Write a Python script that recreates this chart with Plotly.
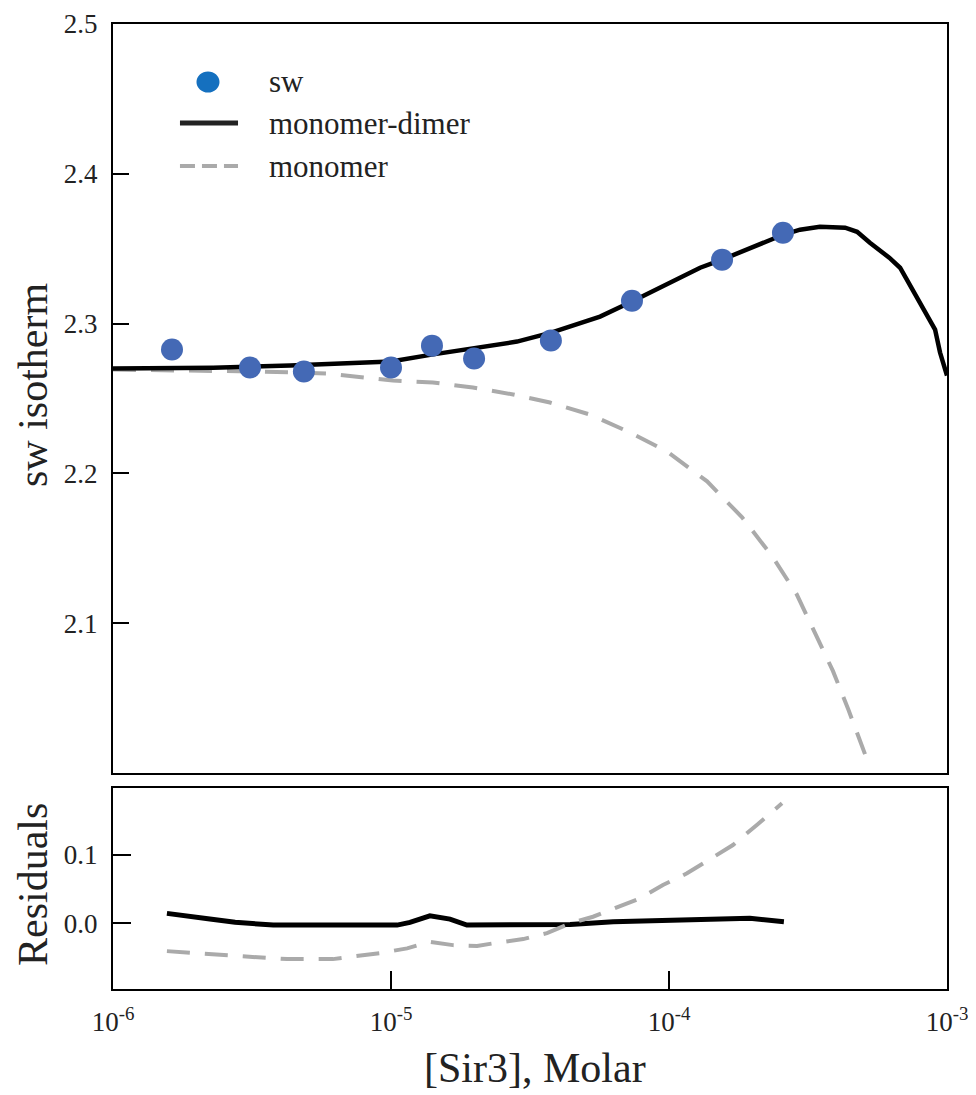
import plotly.graph_objects as go

# ---------------- data ----------------
conc_obs = [1.63e-6, 3.11e-6, 4.86e-6, 1.0e-5, 1.404e-5, 1.99e-5, 3.76e-5, 7.36e-5, 1.552e-4, 2.57e-4]
sw_obs = [2.2827, 2.2707, 2.2680, 2.2707, 2.2853, 2.2767, 2.2887, 2.3153, 2.3427, 2.3607]

conc_md = [1.0e-6, 2.29e-6, 4.34e-6, 1.0e-5, 1.40e-5, 1.99e-5, 2.84e-5, 3.77e-5, 5.65e-5, 7.36e-5,
           1.294e-4, 1.552e-4, 2.57e-4, 2.96e-4, 3.49e-4, 4.30e-4, 4.75e-4, 5.28e-4, 6.20e-4,
           6.78e-4, 8.0e-4, 9.06e-4, 9.44e-4, 1.0e-3]
sw_md = [2.2700, 2.2705, 2.2720, 2.2747, 2.2793, 2.2840, 2.2880, 2.2940, 2.3047, 2.3147,
         2.3373, 2.3427, 2.3593, 2.3627, 2.3647, 2.3640, 2.3613, 2.3540, 2.3440,
         2.3373, 2.3140, 2.2960, 2.2807, 2.2653]

conc_mono = [1.0e-6, 2.06e-6, 3.38e-6, 5.89e-6, 1.016e-5, 1.416e-5, 1.97e-5, 2.75e-5, 3.73e-5,
             5.20e-5, 7.24e-5, 9.84e-5, 1.371e-4, 1.832e-4, 2.35e-4, 2.88e-4, 3.38e-4, 3.89e-4,
             4.41e-4, 5.15e-4]
sw_mono = [2.2693, 2.2687, 2.2680, 2.2667, 2.2620, 2.2607, 2.2573, 2.2527, 2.2473,
           2.2393, 2.2273, 2.2147, 2.1947, 2.1707, 2.1447, 2.1193, 2.0927, 2.0680,
           2.0427, 2.0093]

conc_res_md = [1.563e-6, 1.786e-6, 2.23e-6, 2.75e-6, 3.77e-6, 1.052e-5, 1.17e-5, 1.38e-5,
               1.63e-5, 1.875e-5, 4.41e-5, 6.30e-5, 1.954e-4, 2.59e-4]
res_md = [0.0146, 0.0110, 0.0063, 0.0015, -0.0025, -0.0025, 0.0015, 0.0110,
          0.0063, -0.0025, -0.0015, 0.0025, 0.0073, 0.0025]

conc_res_mono = [1.563e-6, 1.94e-6, 2.86e-6, 4.23e-6, 6.18e-6, 7.13e-6, 9.12e-6, 1.143e-5,
                 1.38e-5, 1.67e-5, 2.04e-5, 2.40e-5, 2.99e-5, 3.64e-5, 4.41e-5, 5.33e-5,
                 6.50e-5, 7.87e-5, 9.51e-5, 1.161e-4, 1.403e-4, 1.698e-4, 2.07e-4, 2.55e-4]
res_mono = [-0.0406, -0.0435, -0.0479, -0.0523, -0.0523, -0.0489, -0.0435, -0.0366,
            -0.0269, -0.0318, -0.0330, -0.0284, -0.0230, -0.0142, 0.0000, 0.0097,
            0.0234, 0.0366, 0.0561, 0.0732, 0.0937, 0.1146, 0.1439, 0.1757]

x_tickvals = [1e-6, 1e-5, 1e-4, 1e-3]
x_ticktext = ["10<sup>-6</sup>", "10<sup>-5</sup>", "10<sup>-4</sup>", "10<sup>-3</sup>"]
y_tickvals = [2.1, 2.2, 2.3, 2.4, 2.5]
res_tickvals = [0.0, 0.1]
res_ticktext = ["0.0", "0.1"]

legend_labels = ["sw", "monomer-dimer", "monomer"]

# ---------------- style ----------------
FONT = "Liberation Serif"
BLACK = "#000000"
TXT = "#222222"
GRAY = "#aaaaaa"
BLUE = "#4469B5"
LEG_BLUE = "#1570BF"

fig = go.Figure()

fig.add_trace(go.Scatter(x=conc_mono, y=sw_mono, mode="lines", xaxis="x", yaxis="y",
                         line=dict(color=GRAY, width=4, dash="23px,15px"), showlegend=False))
fig.add_trace(go.Scatter(x=conc_md, y=sw_md, mode="lines", xaxis="x", yaxis="y",
                         line=dict(color=BLACK, width=4.5), showlegend=False))
fig.add_trace(go.Scatter(x=conc_obs, y=sw_obs, mode="markers", xaxis="x", yaxis="y",
                         marker=dict(color=BLUE, size=22, line=dict(width=0)), showlegend=False))

fig.add_trace(go.Scatter(x=conc_res_md, y=res_md, mode="lines", xaxis="x2", yaxis="y2",
                         line=dict(color=BLACK, width=5), showlegend=False))
fig.add_trace(go.Scatter(x=conc_res_mono, y=res_mono, mode="lines", xaxis="x2", yaxis="y2",
                         line=dict(color=GRAY, width=4, dash="23px,15px"), showlegend=False))

axis_common = dict(showline=True, linecolor=BLACK, linewidth=2, mirror=True,
                   showgrid=False, zeroline=False, automargin=False)
tick_font = dict(family=FONT, size=27, color=TXT)

fig.update_layout(
    width=968, height=1087,
    margin=dict(l=105, r=29, t=16, b=106, autoexpand=False),
    paper_bgcolor="white", plot_bgcolor="white",
    font=dict(family=FONT, size=27, color=TXT),
    xaxis=dict(type="log", range=[-6, -3], domain=[0, 1], anchor="y",
               showticklabels=False, ticks="", **axis_common),
    yaxis=dict(range=[2.0, 2.5], domain=[0.2238, 1], anchor="x",
               tickvals=y_tickvals, tickformat=".1f", ticks="inside", ticklen=16,
               tickwidth=2, tickcolor=BLACK, ticklabelstandoff=8,
               tickfont=tick_font, **axis_common),
    xaxis2=dict(type="log", range=[-6, -3], domain=[0, 1], anchor="y2",
                tickvals=x_tickvals, ticktext=x_ticktext, ticks="inside", ticklen=18,
                tickwidth=2, tickcolor=BLACK, ticklabelstandoff=8,
                tickfont=tick_font, **axis_common),
    yaxis2=dict(range=[-0.096, 0.198], domain=[0, 0.2083], anchor="x2",
                tickvals=res_tickvals, ticktext=res_ticktext, ticks="inside", ticklen=18,
                tickwidth=2, tickcolor=BLACK, ticklabelstandoff=8,
                tickfont=tick_font, **axis_common),
)

# axis titles
fig.add_annotation(text="sw isotherm", xref="paper", yref="paper", x=0, y=0.6259,
                   xshift=-80, textangle=-90, showarrow=False, xanchor="center", yanchor="middle",
                   font=dict(family=FONT, size=42, color=TXT))
fig.add_annotation(text="Residuals", xref="paper", yref="paper", x=0, y=0.1078,
                   xshift=-80, textangle=-90, showarrow=False, xanchor="center", yanchor="middle",
                   font=dict(family=FONT, size=42, color=TXT))
fig.add_annotation(text="[Sir3], Molar", xref="paper", yref="paper", x=0.5, y=-0.0819,
                   xshift=5, showarrow=False, xanchor="center", yanchor="middle",
                   font=dict(family=FONT, size=42, color=TXT))

# manual legend (symbols drawn as shapes, labels as text)
fig.add_shape(type="circle", xref="paper", yref="paper",
              x0=0.1001, x1=0.1277, y0=0.9289, y1=0.9509,
              fillcolor=LEG_BLUE, line=dict(width=0))
fig.add_shape(type="line", xref="paper", yref="paper",
              x0=0.0803, x1=0.1499, y0=0.8974, y1=0.8974,
              line=dict(color=TXT, width=5))
fig.add_shape(type="line", xref="paper", yref="paper",
              x0=0.0803, x1=0.1499, y0=0.8528, y1=0.8528,
              line=dict(color=GRAY, width=4, dash="15px,7px"))
for lab, yy in zip(legend_labels, [0.9399, 0.8974, 0.8528]):
    fig.add_annotation(text=lab, xref="paper", yref="paper", x=0.1847, y=yy,
                       showarrow=False, xanchor="left", yanchor="middle",
                       font=dict(family=FONT, size=31, color=TXT))

fig.write_html("out.html")
